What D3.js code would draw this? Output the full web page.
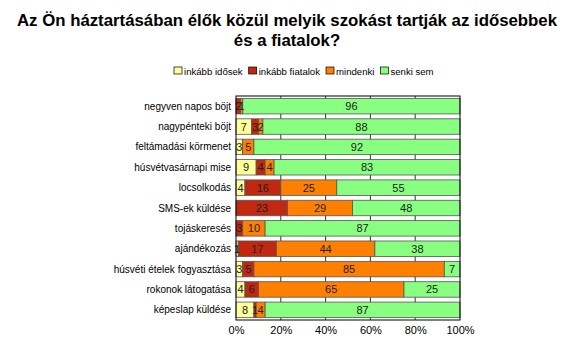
<!DOCTYPE html>
<html><head><meta charset="utf-8">
<script src="https://cdn.jsdelivr.net/npm/d3@7/dist/d3.min.js"></script>
<style>body{margin:0;background:#fff}svg{display:block}</style>
</head><body><svg id="c" width="575" height="342"></svg>
<script>
const categories = ["negyven napos böjt","nagypénteki böjt","feltámadási körmenet","húsvétvasárnapi mise","locsolkodás","SMS-ek küldése","tojáskeresés","ajándékozás","húsvéti ételek fogyasztása","rokonok látogatása","képeslap küldése"];
const seriesNames = ["inkább idősek","inkább fiatalok","mindenki","senki sem"];
const idosek   = [0, 7, 3, 9, 4, 0, 0, 1, 3, 4, 8];
const fiatalok = [2, 3, 0, 4, 16, 23, 3, 17, 5, 6, 1];
const mindenki = [1, 2, 5, 4, 25, 29, 10, 44, 85, 65, 4];
const senki    = [96, 88, 92, 83, 55, 48, 87, 38, 7, 25, 87];
const tickValues = [0, 20, 40, 60, 80, 100];
const colors = ["#ffff99", "#c0280f", "#ff8000", "#88ff80"];

const svg = d3.select("#c");
const font = "'Liberation Sans', Arial, sans-serif";
const m = {l: 236, r: 460, t: 96, b: 320};
const x = d3.scaleLinear().domain([0, 100]).range([m.l, m.r]);
const y = d3.scaleBand().domain(categories).range([m.t, m.b]).paddingInner(0.24).paddingOuter(0.12);

// title
const title = svg.append("text").attr("text-anchor", "middle")
  .attr("font-family", font).attr("font-weight", "bold").attr("font-size", 16.8).attr("fill", "#000");
title.append("tspan").attr("x", 287).attr("y", 26).text("Az Ön háztartásában élők közül melyik szokást tartják az idősebbek");
title.append("tspan").attr("x", 287).attr("y", 46).text("és a fiatalok?");

// legend (laid out sequentially)
let lx = 174;
seriesNames.forEach((s, i) => {
  const g = svg.append("g").attr("transform", `translate(${lx},67)`);
  g.append("rect").attr("width", 8).attr("height", 7).attr("fill", colors[i]).attr("stroke", "#000").attr("stroke-width", 0.7);
  const t = g.append("text").attr("x", 10).attr("y", 7.5).attr("font-family", font).attr("font-size", 9.6).attr("fill", "#000").text(s);
  lx += 10 + t.node().getComputedTextLength() + 6;
});

// gridlines
svg.append("g").selectAll("line").data(tickValues.slice(1, -1)).join("line")
  .attr("x1", d => x(d)).attr("x2", d => x(d)).attr("y1", m.t).attr("y2", m.b)
  .attr("stroke", "#333").attr("stroke-width", 1);

// 100% stacked bars (each row normalised to its total)
const rows = categories.map((c, i) => ({cat: c, vals: [idosek[i], fiatalok[i], mindenki[i], senki[i]]}));
const segs = [];
rows.forEach(r => {
  const tot = d3.sum(r.vals);
  let acc = 0;
  r.vals.forEach((v, k) => { const p = v / tot * 100; segs.push({cat: r.cat, k, v, x0: acc, x1: acc + p}); acc += p; });
});
const bars = svg.append("g");
bars.selectAll("rect").data(segs.filter(d => d.v > 0)).join("rect")
  .attr("x", d => x(d.x0)).attr("width", d => x(d.x1) - x(d.x0))
  .attr("y", d => y(d.cat)).attr("height", y.bandwidth())
  .attr("fill", d => colors[d.k]).attr("stroke", "#555").attr("stroke-width", 0.8);
bars.selectAll("text").data(segs.filter(d => d.v > 0)).join("text")
  .attr("x", d => (x(d.x0) + x(d.x1)) / 2).attr("y", d => y(d.cat) + y.bandwidth() / 2 + 4)
  .attr("text-anchor", "middle").attr("font-family", font).attr("font-size", 11).attr("fill", "#222")
  .text(d => d.v);

// plot border
svg.append("rect").attr("x", m.l).attr("y", m.t).attr("width", m.r - m.l).attr("height", m.b - m.t)
  .attr("fill", "none").attr("stroke", "#000").attr("stroke-width", 1);

// category labels
svg.append("g").selectAll("text").data(categories).join("text")
  .attr("x", m.l - 5).attr("y", d => y(d) + y.bandwidth() / 2 + 3.5)
  .attr("text-anchor", "end").attr("font-family", font).attr("font-size", 10).attr("fill", "#000").text(d => d);

// x axis
const ax = svg.append("g").attr("transform", `translate(0,${m.b})`)
  .call(d3.axisBottom(x).tickValues(tickValues).tickFormat(d => d + "%").tickSize(0).tickPadding(6));
ax.select(".domain").remove();
ax.selectAll("text").attr("font-family", font).attr("font-size", 11).attr("fill", "#000");
</script></body></html>
